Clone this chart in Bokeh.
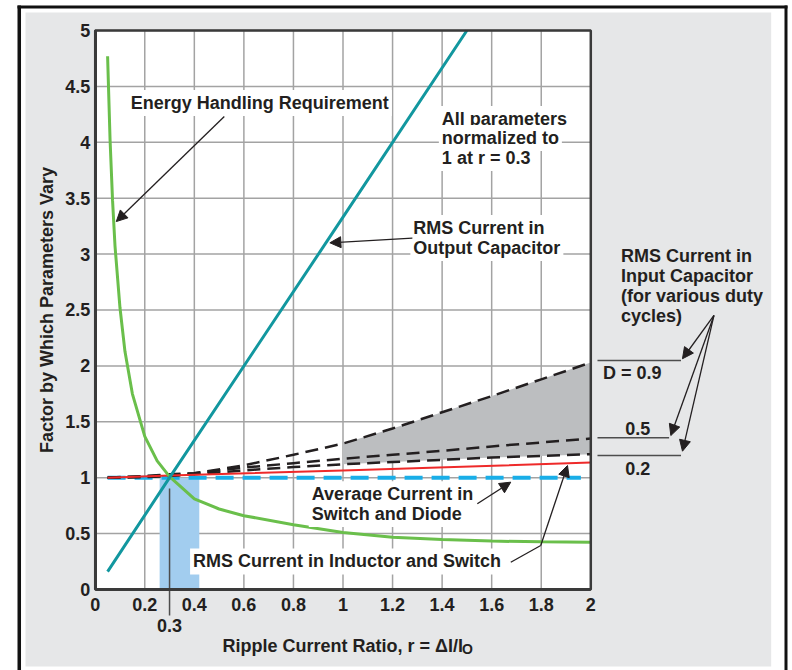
from bokeh.plotting import figure
from bokeh.models import Label, Arrow, NormalHead, FixedTicker, NumeralTickFormatter
from bokeh.embed import file_html
from bokeh.resources import INLINE

# ---------------- data ----------------
r_energy = [0.05, 0.06, 0.07, 0.08, 0.10, 0.12, 0.15, 0.20, 0.25, 0.30,
            0.40, 0.50, 0.60, 0.80, 1.00, 1.20, 1.40, 1.60, 1.80, 2.00]
energy = [4.77, 4.02, 3.48, 3.07, 2.52, 2.13, 1.75, 1.37, 1.15, 1.01,
          0.81, 0.72, 0.66, 0.58, 0.51, 0.468, 0.447, 0.433, 0.426, 0.423]

r_out = [0.05, 0.30, 1.00, 1.50]
out_cap = [0.16, 1.00, 3.33, 5.00]

r_ind = [0.05, 0.30, 1.00, 2.00]
ind_rms = [1.00, 1.02, 1.065, 1.135]

r_avg = [0.05, 1.96]
avg_cur = [1.00, 1.00]

r_in = [0.05, 0.20, 0.30, 0.40, 0.60, 0.80, 1.00, 1.20, 1.40, 1.60, 1.80, 2.00]
in_d09 = [1.00, 1.015, 1.03, 1.04, 1.11, 1.205, 1.305, 1.44, 1.585, 1.73, 1.88, 2.03]
in_d05 = [1.00, 1.01, 1.02, 1.04, 1.09, 1.13, 1.17, 1.205, 1.24, 1.28, 1.315, 1.35]
in_d02 = [1.00, 1.005, 1.015, 1.03, 1.065, 1.095, 1.12, 1.14, 1.16, 1.18, 1.195, 1.21]
shade_from = 1.0

band_r = [0.26, 0.42]
band_top = [1.0]
marker_r = 0.3

x_ticks = [0, 0.2, 0.4, 0.6, 0.8, 1.0, 1.2, 1.4, 1.6, 1.8, 2.0]
y_ticks = [0, 0.5, 1.0, 1.5, 2.0, 2.5, 3.0, 3.5, 4.0, 4.5, 5.0]

# ---------------- styling ----------------
FONT = "Liberation Sans"
INK = "#231f20"
FRAME = "#3a3a3a"
PANEL = "#e6e7e8"

XMIN, XMAX = x_ticks[0], x_ticks[-1]
YMIN, YMAX = y_ticks[0], y_ticks[-1]

PX_X = 247.8   # pixels per x unit
PX_Y = 111.8   # pixels per y unit

# the frame covers the whole canvas; the chart axes sit at x=0 / y=0
p = figure(width=792, height=670, x_range=(-0.3822, 2.8140), y_range=(-0.7245, 5.2683),
           output_backend="svg", toolbar_location=None, min_border=0)
p.min_border_left = 0
p.min_border_right = 0
p.min_border_top = 0
p.min_border_bottom = 0
p.border_fill_color = "white"
p.background_fill_color = "white"
p.outline_line_color = None
p.grid.visible = False

# page decoration: gray panel inside a black frame
p.quad(left=[-0.2813], right=[2.7280], bottom=[-0.6887], top=[5.161], fill_color=PANEL, line_color=None)
p.quad(left=[-0.3136, 2.7817], right=[-0.2994, 2.7938], bottom=[-0.80, -0.80], top=[5.2236, 5.2236],
       fill_color="#111111", line_color=None)
p.quad(left=[-0.3136], right=[2.7938], bottom=[5.1968], top=[5.2236], fill_color="#111111", line_color=None)

# plot area
p.quad(left=[XMIN], right=[XMAX], bottom=[YMIN], top=[YMAX], fill_color="white", line_color=None)
p.segment(x0=x_ticks, y0=YMIN, x1=x_ticks, y1=YMAX, line_color="#a3a3a3", line_width=1.5)
p.segment(x0=XMIN, y0=y_ticks, x1=XMAX, y1=y_ticks, line_color="#a3a3a3", line_width=1.5)

for ax, ticks, bnds in ((p.xaxis, x_ticks, (XMIN, XMAX)), (p.yaxis, y_ticks, (YMIN, YMAX))):
    ax.fixed_location = 0
    ax.bounds = bnds
    ax.ticker = FixedTicker(ticks=ticks)
    ax.formatter = NumeralTickFormatter(format="0.[0]")
    ax.major_label_text_font = FONT
    ax.major_label_text_font_style = "bold"
    ax.major_label_text_font_size = "18px"
    ax.major_label_text_color = INK
    ax.major_tick_in = 0
    ax.major_tick_out = 0
    ax.minor_tick_in = 0
    ax.minor_tick_out = 0
    ax.axis_line_width = 3
    ax.axis_line_color = FRAME

p.xaxis.major_label_standoff = 8
p.yaxis.major_label_standoff = 5
p.yaxis.axis_label = "Factor by Which Parameters Vary"
p.yaxis.axis_label_text_font = FONT
p.yaxis.axis_label_text_font_style = "bold"
p.yaxis.axis_label_text_font_size = "18px"
p.yaxis.axis_label_text_color = INK
p.yaxis.axis_label_standoff = 5

# ---------------- marks ----------------
p.quad(left=[band_r[0]], right=[band_r[1]], bottom=[0], top=band_top,
       fill_color="#a2cdef", line_color=None)

sx = [r for r in r_in if r >= shade_from]
s_lo = [v for r, v in zip(r_in, in_d02) if r >= shade_from]
s_hi = [v for r, v in zip(r_in, in_d09) if r >= shade_from]
p.varea(x=sx, y1=s_lo, y2=s_hi, fill_color="#bcbec0")

p.segment(x0=[marker_r], y0=[0.903], x1=[marker_r], y1=[-0.233], line_color="#4d4d4d", line_width=1.5)

p.line(r_avg, avg_cur, line_color="#19aee8", line_width=4, line_dash="18 9")
for ys in (in_d02, in_d05, in_d09):
    p.line(r_in, ys, line_color=INK, line_width=2.5, line_dash="13 7")
p.line(r_ind, ind_rms, line_color="#ee2a2a", line_width=2)
p.line(r_energy, energy, line_color="#6abf4b", line_width=3)
p.line(r_out, out_cap, line_color="#12979f", line_width=3)

# plot-area outline on top of the curves
p.quad(left=[XMIN], right=[XMAX], bottom=[YMIN], top=[YMAX], fill_color=None,
       line_color=FRAME, line_width=2.5)


# ---------------- annotations ----------------
def label(x, y, text, bg=True, size="18px", align="left"):
    # compensate the 3px box padding and the box baseline placement
    dx = {"left": -3.5, "right": 3.5, "center": 0}[align] / PX_X
    dy = 7.0 / PX_Y
    p.add_layout(Label(x=x + dx, y=y + dy, text=text, text_font=FONT, text_font_style="bold",
                       text_font_size=size, text_color=INK, text_baseline="alphabetic",
                       text_align=align,
                       background_fill_color="white" if bg else None, padding=3))


def arrow(x0, y0, x1, y1, head=True, color=INK, width=1.3):
    p.add_layout(Arrow(x_start=x0, y_start=y0, x_end=x1, y_end=y1,
                       end=NormalHead(size=11, fill_color=INK, line_color=INK, line_width=1) if head else None,
                       line_color=color, line_width=width))


label(0.1455, 4.288, "Energy Handling Requirement")
arrow(0.521, 4.231, 0.085, 3.291)

label(1.286, 3.170, "RMS Current in")
label(1.286, 2.991, "Output Capacitor")
arrow(1.280, 3.142, 0.947, 3.101)

label(1.401, 4.145, "All parameters")
label(1.401, 3.975, "normalized to")
label(1.401, 3.796, "1 at r = 0.3")

label(0.876, 0.789, "Average Current in")
label(0.876, 0.612, "Switch and Diode")
arrow(1.542, 0.767, 1.677, 0.960)

label(0.397, 0.188, "RMS Current in Inductor and Switch")
arrow(1.677, 0.244, 1.798, 0.394, head=False)
arrow(1.798, 0.394, 1.906, 1.109)

label(2.124, 2.916, "RMS Current in", bg=False)
label(2.124, 2.741, "Input Capacitor", bg=False)
label(2.124, 2.567, "(for various duty", bg=False)
label(2.124, 2.384, "cycles)", bg=False)

label(2.051, 1.878, "D = 0.9", bg=False)
label(2.141, 1.381, "0.5", bg=False)
label(2.141, 1.023, "0.2", bg=False)
arrow(2.027, 2.048, 2.364, 2.048, head=False, color="#4d4d4d", width=1.5)
arrow(2.027, 1.357, 2.316, 1.357, head=False, color="#4d4d4d", width=1.5)
arrow(2.027, 1.199, 2.364, 1.199, head=False, color="#4d4d4d", width=1.5)
arrow(2.497, 2.451, 2.370, 2.064)
arrow(2.497, 2.451, 2.323, 1.377)
arrow(2.497, 2.451, 2.370, 1.237)

label(marker_r, -0.385, "0.3", bg=False, align="center")
label(1.482, -0.564, "Ripple Current Ratio, r = \u0394I/I", bg=False, align="right")
label(1.482, -0.595, "O", bg=False, size="14px")

open("out.html", "w").write(file_html(p, INLINE))
